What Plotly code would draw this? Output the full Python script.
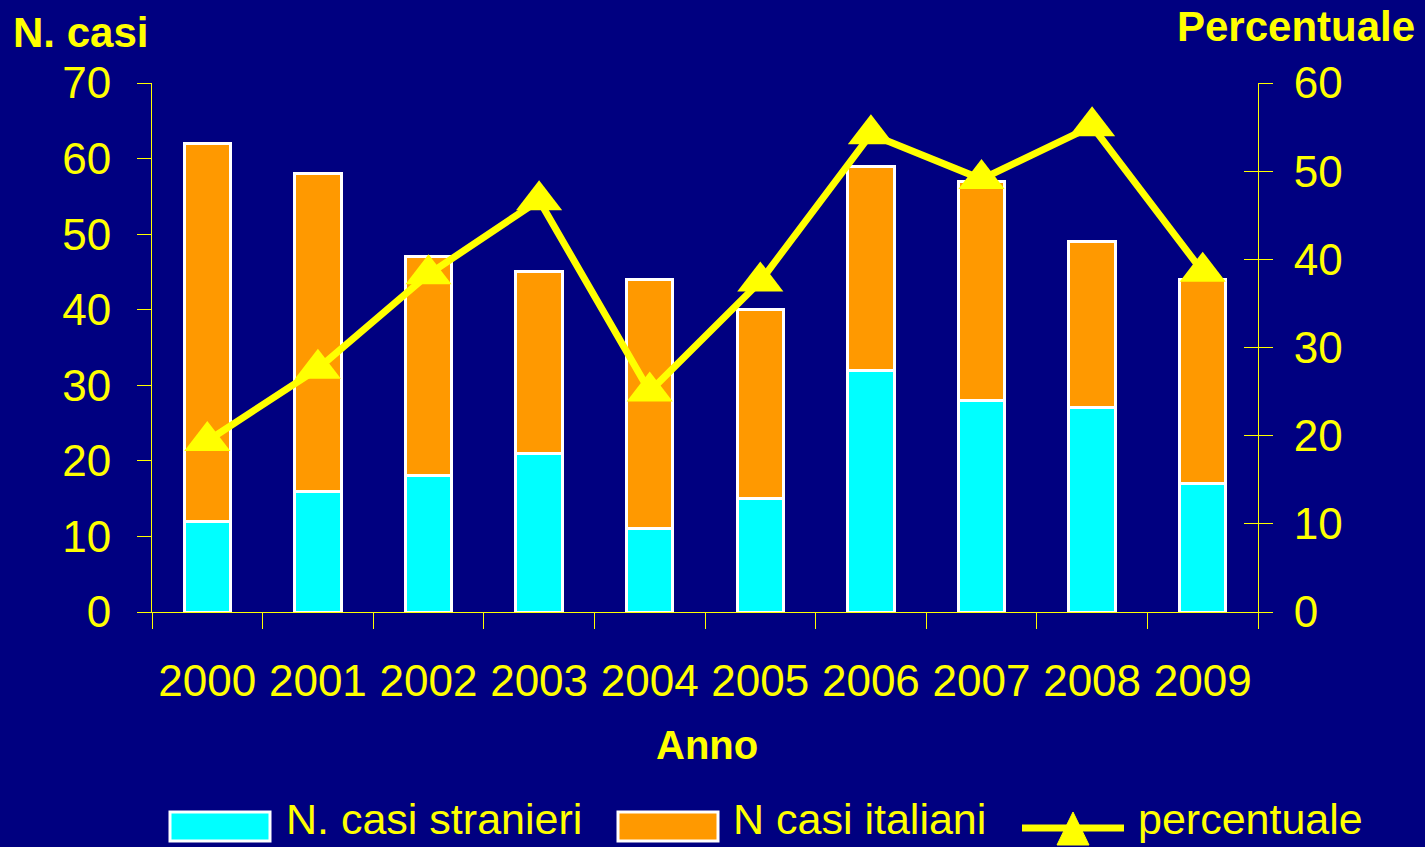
import plotly.graph_objects as go

# ------------------------------------------
# DATI
# ------------------------------------------
ANNI = ["2000", "2001", "2002", "2003", "2004", "2005", "2006", "2007", "2008", "2009"]
STRANIERI = [12, 16, 18, 21, 11, 15, 32, 28, 27, 17]
ITALIANI = [50, 42, 29, 24, 33, 25, 27, 29, 22, 27]
PERCENTUALE = [19.4, 27.6, 38.3, 46.7, 25.0, 37.5, 54.2, 49.1, 55.1, 38.6]

# Stile
BG = "#000080"
YELLOW = "#FFFF00"
CYAN = "#00FFFF"
ORANGE = "#FF9900"
FONT = "Liberation Sans, Arial, sans-serif"

W, H = 1425, 847
ML, MR, MT, MB = 152, 167, 83, 235
PW, PH = W - ML - MR, H - MT - MB


def px(x):
    return (x - ML) / PW


def py(y):
    return (H - MB - y) / PH


fig = go.Figure()

fig.add_trace(go.Bar(
    x=ANNI, y=STRANIERI, name="N. casi stranieri",
    marker=dict(color=CYAN, line=dict(color="white", width=3)),
    width=0.42,
))
fig.add_trace(go.Bar(
    x=ANNI, y=ITALIANI, name="N casi italiani",
    marker=dict(color=ORANGE, line=dict(color="white", width=3)),
    width=0.42,
))
fig.add_trace(go.Scatter(
    x=ANNI, y=PERCENTUALE, name="percentuale", yaxis="y2",
    mode="lines+markers",
    line=dict(color=YELLOW, width=7),
    marker=dict(symbol="triangle-up", size=40, color=YELLOW),
))
# asse invisibile per i tick interni a destra
fig.add_trace(go.Scatter(x=[ANNI[0]], y=[None], yaxis="y3", showlegend=False, hoverinfo="skip"))

# Legenda disegnata a mano (simboli grandi come nell'originale)
shapes = [
    dict(type="rect", xref="paper", yref="paper", x0=px(170), x1=px(270), y0=py(841), y1=py(812),
         fillcolor=CYAN, line=dict(color="white", width=3)),
    dict(type="rect", xref="paper", yref="paper", x0=px(618), x1=px(718), y0=py(841), y1=py(812),
         fillcolor=ORANGE, line=dict(color="white", width=3)),
    dict(type="line", xref="paper", yref="paper", x0=px(1022), x1=px(1124), y0=py(828), y1=py(828),
         line=dict(color=YELLOW, width=7)),
    dict(type="path", xref="paper", yref="paper",
         path=f"M {px(1057)} {py(845)} L {px(1089)} {py(845)} L {px(1073)} {py(812)} Z",
         fillcolor=YELLOW, line=dict(color=YELLOW, width=1)),
]
legend_text = [
    ("N. casi stranieri", 284),
    ("N casi italiani", 731),
    ("percentuale", 1136),
]
annotations = [
    dict(text=t, xref="paper", yref="paper", x=px(x), y=py(819), xanchor="left", yanchor="middle",
         showarrow=False, font=dict(size=43, color=YELLOW))
    for t, x in legend_text
]
annotations += [
    dict(text="<b>N. casi</b>", xref="paper", yref="paper", x=px(11), y=py(7),
         xanchor="left", yanchor="top", showarrow=False,
         font=dict(size=42, color=YELLOW)),
    dict(text="<b>Percentuale</b>", xref="paper", yref="paper", x=px(1417), y=py(1),
         xanchor="right", yanchor="top", showarrow=False,
         font=dict(size=42, color=YELLOW)),
    dict(text="<b>Anno</b>", xref="paper", yref="paper", x=px(707), y=py(745),
         xanchor="center", yanchor="middle", showarrow=False,
         font=dict(size=40, color=YELLOW)),
]

fig.update_layout(
    width=W, height=H,
    barmode="stack",
    paper_bgcolor=BG, plot_bgcolor=BG,
    font=dict(family=FONT, color=YELLOW, size=44),
    margin=dict(l=ML, r=MR, t=MT, b=MB),
    showlegend=False,
    xaxis=dict(
        range=[-0.5, 9.5],
        showline=True, linecolor=YELLOW, linewidth=1,
        ticks="outside", ticklen=16, tickcolor=YELLOW, tickson="boundaries",
        showgrid=False, tickangle=0, ticklabelstandoff=30,
        tickfont=dict(size=44, color=YELLOW),
    ),
    yaxis=dict(
        range=[0, 70], dtick=10, showgrid=False, zeroline=False,
        showline=True, linecolor=YELLOW, linewidth=1,
        ticks="outside", ticklen=14, tickcolor=YELLOW,
        ticklabelstandoff=17, tickfont=dict(size=44, color=YELLOW),
    ),
    yaxis2=dict(
        range=[0, 60], dtick=10, overlaying="y", side="right",
        showgrid=False, zeroline=False,
        showline=True, linecolor=YELLOW, linewidth=1,
        ticks="outside", ticklen=14, tickcolor=YELLOW,
        ticklabelstandoff=12, tickfont=dict(size=44, color=YELLOW),
    ),
    yaxis3=dict(
        range=[0, 60], dtick=10, overlaying="y", side="right",
        showgrid=False, zeroline=False, showticklabels=False,
        ticks="inside", ticklen=14, tickcolor=YELLOW,
    ),
    shapes=shapes,
    annotations=annotations,
)

fig.write_html("out.html", config={"displayModeBar": False},
               post_script="document.body.style.margin='0';")
